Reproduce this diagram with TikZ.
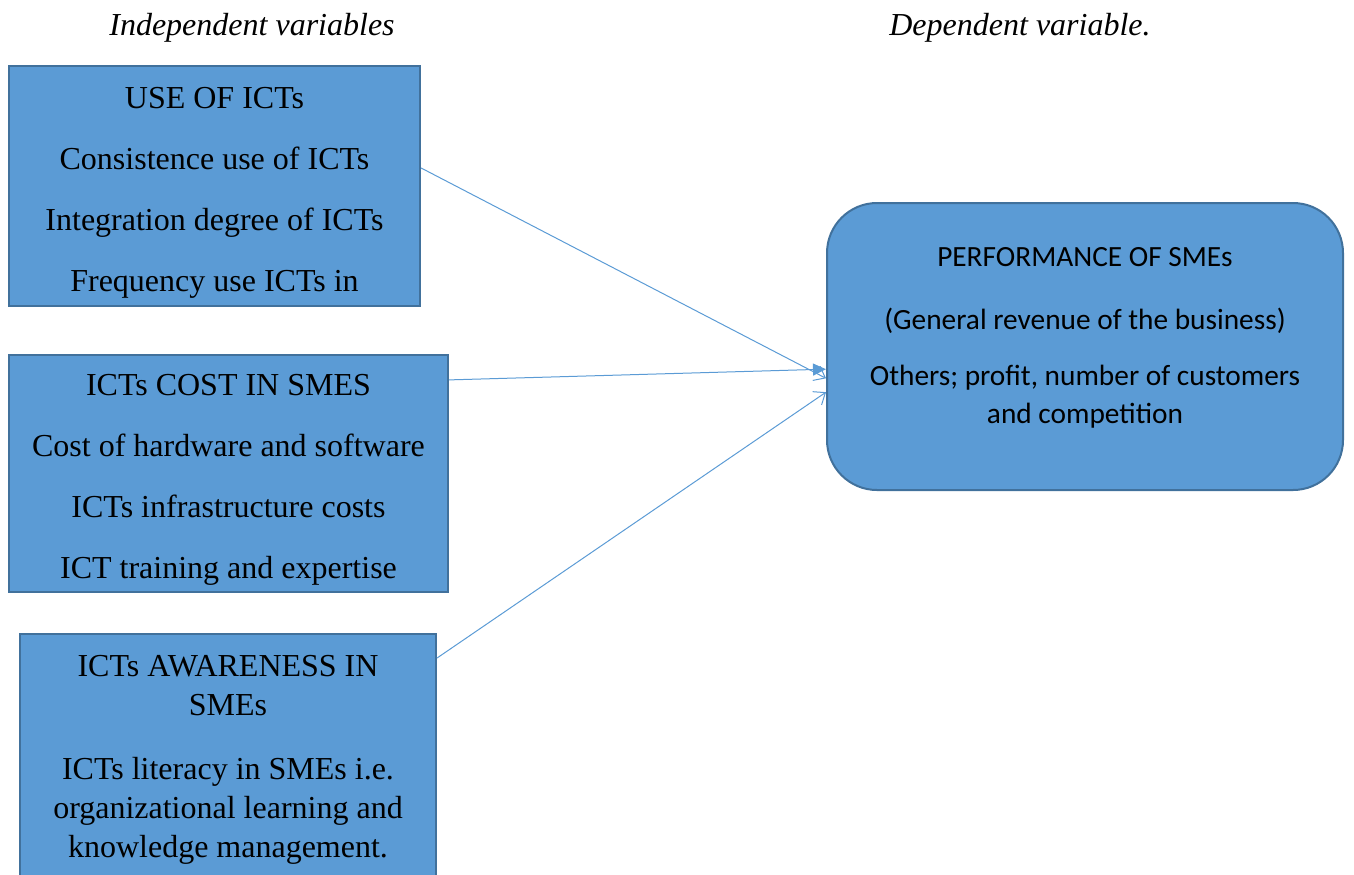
\documentclass[tikz,border=0pt]{standalone}
\usepackage{fontspec}
\setmainfont{Liberation Serif}
\newfontfamily\calibri{Carlito}
\usetikzlibrary{arrows.meta}
\definecolor{boxfill}{HTML}{5B9BD5}
\definecolor{boxline}{HTML}{41719C}

\begin{document}
\begin{tikzpicture}[x=0.5pt, y=-0.5pt,
        varbox/.style={rectangle, draw=boxline, line width=1pt, fill=boxfill, inner sep=0pt, align=center, font=\fontsize{16}{30.5}\selectfont},
        perfbox/.style={rectangle, draw=boxline, line width=1pt, fill=boxfill, rounded corners=25pt, inner sep=0pt, align=center, font=\calibri\fontsize{14.67}{19}\selectfont},
        heading/.style={anchor=base, font=\itshape\fontsize{16}{19}\selectfont},
        link/.style={draw=boxfill, line width=0.5pt}
    ]
        \useasboundingbox (0,0) rectangle (1354,874);

        \node[heading] (indep) at (252,35) {Independent variables};
        \node[heading] (dep) at (1020,35) {Dependent variable.};

        % leading empty line pushes the text a little down
        \node[varbox, minimum width=205.5pt, minimum height=120pt] (use) at (214.5,186)
            {\mbox{}\\[-13.5pt]USE OF ICTs\\Consistence use of ICTs\\Integration degree of ICTs\\Frequency use ICTs in};
        \node[varbox, minimum width=219.5pt, minimum height=118.5pt] (cost) at (228.5,473.5)
            {\mbox{}\\[-13.5pt]ICTs COST IN SMES\\Cost of hardware and software\\ICTs infrastructure costs\\ICT training and expertise};
        \node[varbox, minimum width=208pt, minimum height=121.5pt, font=\fontsize{16}{19.5}\selectfont] (aware) at (228,755.5)
            {\mbox{}\\[-4.5pt]ICTs AWARENESS IN\\SMEs\\[12.5pt]ICTs literacy in SMEs i.e.\\organizational learning and\\knowledge management.};

        \node[perfbox, minimum width=258pt, minimum height=143.5pt] (perf) at (1085,346.5)
            {PERFORMANCE OF SMEs\\[12.5pt](General revenue of the business)\\[9pt]Others; profit, number of customers\\and competition\\[-8pt]\mbox{}};

        \draw[link, -{Straight Barb[length=5pt,width=8pt]}] (use.5) -- (perf.187.5);
        \draw[link, -{Triangle[length=6.5pt,width=6pt]}] (cost.23) -- (perf.185);
        \draw[link, -{Straight Barb[length=5pt,width=8pt]}] (aware.25) -- (perf.190);
    \end{tikzpicture}
\end{document}
